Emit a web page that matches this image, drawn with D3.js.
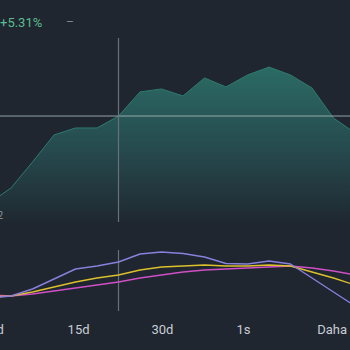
<!DOCTYPE html>
<html><head><meta charset="utf-8">
<script src="https://cdn.jsdelivr.net/npm/d3@7"></script>
<style>
html,body{margin:0;padding:0;background:#1f2630;overflow:hidden}
svg{display:block}
</style></head>
<body>
<svg id="c" width="350" height="350"></svg>
<script>
// data
const mainValues = [1.03,1.85,3.26,4.73,5.11,5.11,5.76,7.07,7.23,6.85,7.83,7.34,7.99,8.42,7.99,7.28,5.65,4.84];
const purpleValues = [2.4,2.8,4.2,6.2,8.2,8.8,9.6,11.2,11.6,11.3,10.6,9.3,9.2,9.8,9.2,6.4,3.6,0.8];
const yellowValues = [2.6,2.8,3.6,4.6,5.6,6.4,7.0,8.0,8.6,8.8,9.0,8.8,8.8,9.0,8.8,7.6,6.4,5.0];
const magentaValues = [3.0,2.8,3.2,3.8,4.4,5.0,5.6,6.4,7.0,7.6,8.0,8.2,8.4,8.6,8.8,8.4,7.8,7.0];
const tickLabels = ["7d","15d","30d","1s","Daha Fazla"];
const tickIndex = [0.3,4.12,8.02,11.79,16.7];
const hoverIndex = 6;
const changeText = "+5.31%";

const svg = d3.select("#c");
const idx = d3.range(mainValues.length);
const x = d3.scaleLinear().domain([0,17]).range([-10.5,355]);
const yTop = d3.scaleLinear().domain([0,10]).range([222,38]);
const yBot = d3.scaleLinear().domain([0,12]).range([310,250]);

const defs = svg.append("defs");
const g = defs.append("linearGradient").attr("id","ag")
  .attr("gradientUnits","userSpaceOnUse").attr("x1",0).attr("x2",0).attr("y1",yTop(8.5)).attr("y2",yTop(0));
g.append("stop").attr("offset",0).attr("stop-color","#2b6b64");
g.append("stop").attr("offset",0.55).attr("stop-color","#26494d");
g.append("stop").attr("offset",1).attr("stop-color","#1f2831");

svg.append("path").datum(idx)
  .attr("d", d3.area().x(i=>x(i)).y0(yTop(0)).y1(i=>yTop(mainValues[i])))
  .attr("fill","url(#ag)");
svg.append("path").datum(idx)
  .attr("d", d3.line().x(i=>x(i)).y(i=>yTop(mainValues[i])))
  .attr("fill","none").attr("stroke","#2e7a70").attr("stroke-width",1);

// crosshair
svg.append("line").attr("x1",0).attr("x2",350)
  .attr("y1",yTop(mainValues[hoverIndex])).attr("y2",yTop(mainValues[hoverIndex]))
  .attr("stroke","#a9b8bb").attr("stroke-width",1).attr("opacity",0.85);
svg.append("line").attr("x1",x(hoverIndex)).attr("x2",x(hoverIndex))
  .attr("y1",38).attr("y2",222).attr("stroke","#6a7079").attr("stroke-width",1.2);
svg.append("line").attr("x1",x(hoverIndex)).attr("x2",x(hoverIndex))
  .attr("y1",250).attr("y2",311).attr("stroke","#6a7079").attr("stroke-width",1.2);

// lines
const line = d3.line().x((d,i)=>x(i)).y(d=>yBot(d));
[[magentaValues,"#cf4fc6"],[yellowValues,"#dcc02c"],[purpleValues,"#8a7fdc"]].forEach(([vals,col])=>{
  svg.append("path").datum(vals).attr("d",line).attr("fill","none")
    .attr("stroke",col).attr("stroke-width",1.4).attr("stroke-linejoin","round");
});

// axis
const ax = svg.append("g").attr("transform","translate(0,322)")
  .call(d3.axisBottom(x).tickValues(tickIndex).tickFormat((d,i)=>tickLabels[i]).tickSize(0).tickPadding(0));
ax.select(".domain").remove();
ax.selectAll("text").attr("fill","#c9ccd3").attr("font-size",13)
  .attr("font-family","Roboto, sans-serif").attr("dy","0.9em");

// header
svg.append("text").attr("x",0).attr("y",27).text(changeText)
  .attr("fill","#5bbd8e").attr("font-size",13).attr("font-family","Roboto, sans-serif");
svg.append("text").attr("x",66).attr("y",26).text("–")
  .attr("fill","#7e858f").attr("font-size",12).attr("font-family","Roboto, sans-serif");
svg.append("text").attr("x",3).attr("y",219).attr("text-anchor","end").text("2")
  .attr("fill","#8d939c").attr("font-size",10).attr("font-family","Roboto, sans-serif");
</script>
</body></html>
